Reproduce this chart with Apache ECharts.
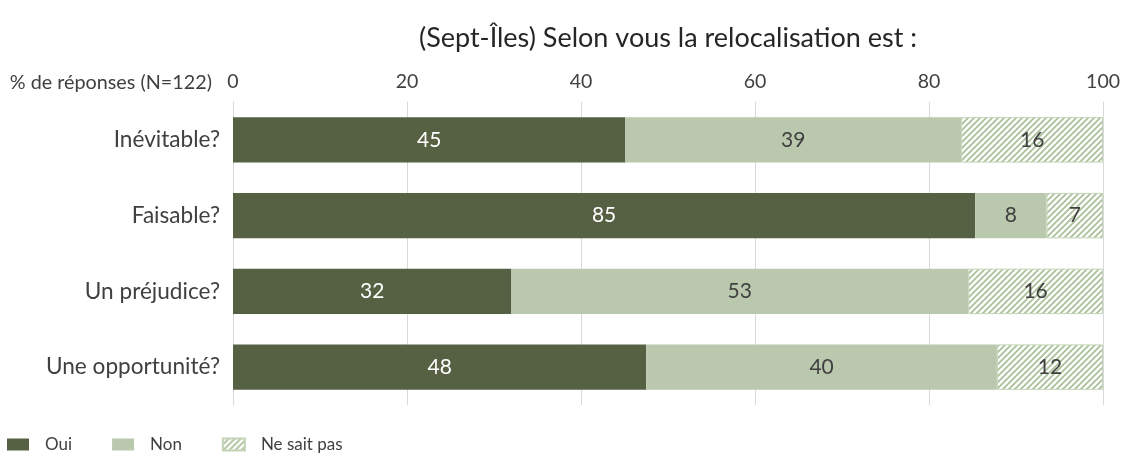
<!DOCTYPE html>
<html>
<head>
<meta charset="utf-8">
<script src="https://cdn.jsdelivr.net/npm/echarts@6/dist/echarts.min.js"></script>
<style>html,body{margin:0;padding:0;background:#fff}#c{width:1123px;height:453px}</style>
</head>
<body>
<div id="c"></div>
<script>
const categories = ['Inévitable?', 'Faisable?', 'Un préjudice?', 'Une opportunité?'];
const oui = [45.1, 85.3, 32.0, 47.5];
const non = [38.6, 8.2, 52.5, 40.3];
const nsp = [16.3, 6.5, 15.5, 12.2];
const seriesNames = ['Oui', 'Non', 'Ne sait pas'];
const xTicks = [0, 20, 40, 60, 80, 100];

function hatch() {
  const s = 6;
  const c = document.createElement('canvas');
  c.width = s; c.height = s;
  const g = c.getContext('2d');
  g.fillStyle = '#ffffff';
  g.fillRect(0, 0, s, s);
  g.strokeStyle = '#a9c198';
  g.lineWidth = 1.8;
  g.beginPath();
  g.moveTo(0, s); g.lineTo(s, 0);
  g.moveTo(-1, 1); g.lineTo(1, -1);
  g.moveTo(s - 1, s + 1); g.lineTo(s + 1, s - 1);
  g.stroke();
  return c;
}

const FONT = 'Lato';
const chart = echarts.init(document.getElementById('c'), null, {renderer: 'canvas'});
const lbl = (color) => ({
  show: true, position: 'inside', color: color, fontSize: 21, fontFamily: FONT,
  formatter: p => Math.round(p.value)
});
chart.setOption({
  animation: false,
  grid: {left: 233, right: 19, top: 102, bottom: 48},
  legend: {
    left: 7, top: 436, padding: 0, itemWidth: 22, itemHeight: 12, itemGap: 40, icon: 'rect',
    textStyle: {fontFamily: FONT, fontSize: 17, color: '#404040', padding: [0, 0, 0, 11]},
    data: seriesNames
  },
  graphic: [{
    type: 'text', x: 668, y: 38,
    style: {text: '(Sept-Îles) Selon vous la relocalisation est :', fontFamily: FONT, fontSize: 27,
            fill: '#262626', textAlign: 'center', textVerticalAlign: 'middle'}
  }, {
    type: 'text', x: 212, y: 83,
    style: {text: '% de réponses (N=122)', fontFamily: FONT, fontSize: 19.8, fill: '#404040',
            textAlign: 'right', textVerticalAlign: 'middle'}
  }],
  xAxis: {
    type: 'value', position: 'top', min: xTicks[0], max: xTicks[xTicks.length - 1], interval: 20,
    axisLabel: {fontFamily: FONT, fontSize: 19.5, color: '#404040', margin: 10},
    axisLine: {show: false}, axisTick: {show: false},
    splitLine: {lineStyle: {color: '#d9d9d9', width: 1}}
  },
  yAxis: {
    type: 'category', inverse: true, data: categories,
    axisLabel: {fontFamily: FONT, fontSize: 22.6, color: '#404040', margin: 13},
    axisLine: {lineStyle: {color: '#d9d9d9'}}, axisTick: {show: false}
  },
  series: [
    {name: seriesNames[0], type: 'bar', stack: 't', data: oui, barCategoryGap: '40%',
     itemStyle: {color: '#556142'}, label: lbl('#ffffff')},
    {name: seriesNames[1], type: 'bar', stack: 't', data: non,
     itemStyle: {color: '#bac9ae'}, label: lbl('#404040')},
    {name: seriesNames[2], type: 'bar', stack: 't', data: nsp,
     itemStyle: {color: {image: hatch(), repeat: 'repeat'}, borderColor: '#c3d3b6', borderWidth: 1},
     label: lbl('#404040')}
  ]
});
</script>
</body>
</html>
